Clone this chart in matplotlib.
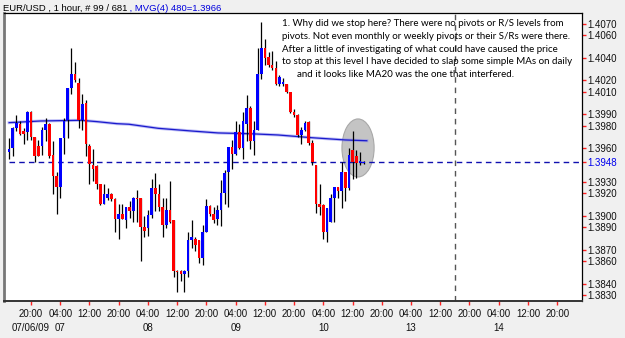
import numpy as np
import matplotlib
matplotlib.use("Agg")
from matplotlib import pyplot as plt
from matplotlib.patches import Ellipse

# hourly EUR/USD candles, 14:00 07/06/09 onwards
opens = [1.3957, 1.3960, 1.3978, 1.3981, 1.3975, 1.3974, 1.3992, 1.3970, 1.3962, 1.3962,
         1.3976, 1.3981, 1.3954, 1.3935, 1.3926, 1.3969, 1.3985, 1.4013, 1.4026, 1.4018,
         1.3985, 1.4000, 1.3962, 1.3945, 1.3944, 1.3928, 1.3911, 1.3916, 1.3919, 1.3915,
         1.3897, 1.3902, 1.3896, 1.3908, 1.3904, 1.3916, 1.3916, 1.3890, 1.3889, 1.3901,
         1.3925, 1.3919, 1.3908, 1.3892, 1.3905, 1.3896, 1.3851, 1.3851, 1.3849, 1.3851,
         1.3879, 1.3880, 1.3879, 1.3863, 1.3886, 1.3909, 1.3902, 1.3897, 1.3905, 1.3920,
         1.3939, 1.3961, 1.3955, 1.3974, 1.3960, 1.3981, 1.3996, 1.3966, 1.3976, 1.4026,
         1.4049, 1.4041, 1.4034, 1.4031, 1.4017, 1.4017, 1.4017, 1.4010, 1.3992, 1.3989,
         1.3972, 1.3976, 1.3983, 1.3965, 1.3945, 1.3911, 1.3910, 1.3886, 1.3895, 1.3916,
         1.3926, 1.3922, 1.3939, 1.3925, 1.3958, 1.3953, 1.3947, 1.3947]
highs = [1.3969, 1.3979, 1.3989, 1.3984, 1.3978, 1.3993, 1.3993, 1.3970, 1.3967, 1.3979,
         1.3987, 1.3982, 1.3966, 1.3939, 1.3969, 1.3987, 1.4013, 1.4049, 1.4036, 1.4022,
         1.4008, 1.4003, 1.3964, 1.3959, 1.3945, 1.3928, 1.3928, 1.3925, 1.3920, 1.3916,
         1.3911, 1.3911, 1.3908, 1.3913, 1.3917, 1.3923, 1.3916, 1.3900, 1.3905, 1.3933,
         1.3938, 1.3928, 1.3916, 1.3916, 1.3931, 1.3896, 1.3852, 1.3852, 1.3852, 1.3886,
         1.3896, 1.3881, 1.3879, 1.3892, 1.3915, 1.3910, 1.3908, 1.3910, 1.3932, 1.3941,
         1.3961, 1.3967, 1.3984, 1.3981, 1.3992, 1.4007, 1.3997, 1.3984, 1.4049, 1.4072,
         1.4057, 1.4045, 1.4046, 1.4037, 1.4025, 1.4022, 1.4017, 1.4010, 1.3995, 1.3990,
         1.3979, 1.3984, 1.3984, 1.3967, 1.3945, 1.3928, 1.3911, 1.3907, 1.3919, 1.3926,
         1.3926, 1.3948, 1.3939, 1.3960, 1.3975, 1.3958, 1.3957, 1.3949]
lows = [1.3950, 1.3953, 1.3975, 1.3972, 1.3964, 1.3967, 1.3967, 1.3948, 1.3953, 1.3954,
        1.3966, 1.3951, 1.3919, 1.3902, 1.3916, 1.3955, 1.3969, 1.4008, 1.4019, 1.3978,
        1.3976, 1.3953, 1.3928, 1.3931, 1.3924, 1.3910, 1.3911, 1.3914, 1.3913, 1.3886,
        1.3880, 1.3897, 1.3889, 1.3898, 1.3895, 1.3895, 1.3860, 1.3881, 1.3882, 1.3898,
        1.3904, 1.3904, 1.3881, 1.3889, 1.3894, 1.3846, 1.3833, 1.3842, 1.3833, 1.3846,
        1.3872, 1.3869, 1.3858, 1.3857, 1.3886, 1.3900, 1.3894, 1.3892, 1.3891, 1.3911,
        1.3908, 1.3942, 1.3954, 1.3959, 1.3950, 1.3966, 1.3959, 1.3954, 1.3976, 1.4021,
        1.4034, 1.4032, 1.4029, 1.4016, 1.4015, 1.4015, 1.4009, 1.3991, 1.3988, 1.3970,
        1.3964, 1.3975, 1.3963, 1.3945, 1.3903, 1.3901, 1.3880, 1.3877, 1.3895, 1.3895,
        1.3916, 1.3907, 1.3913, 1.3923, 1.3933, 1.3934, 1.3945, 1.3946]
closes = [1.3959, 1.3978, 1.3982, 1.3973, 1.3973, 1.3992, 1.3970, 1.3953, 1.3953, 1.3976,
          1.3981, 1.3953, 1.3935, 1.3926, 1.3969, 1.3984, 1.4013, 1.4026, 1.4020, 1.3985,
          1.3999, 1.3964, 1.3946, 1.3942, 1.3928, 1.3911, 1.3919, 1.3919, 1.3915, 1.3897,
          1.3902, 1.3897, 1.3908, 1.3904, 1.3916, 1.3915, 1.3890, 1.3887, 1.3901, 1.3925,
          1.3919, 1.3908, 1.3892, 1.3905, 1.3895, 1.3851, 1.3850, 1.3849, 1.3851, 1.3879,
          1.3881, 1.3874, 1.3863, 1.3886, 1.3909, 1.3902, 1.3896, 1.3905, 1.3920, 1.3938,
          1.3961, 1.3955, 1.3974, 1.3960, 1.3984, 1.3996, 1.3966, 1.3976, 1.4026, 1.4049,
          1.4040, 1.4034, 1.4031, 1.4017, 1.4023, 1.4019, 1.4010, 1.3992, 1.3989, 1.3972,
          1.3976, 1.3982, 1.3965, 1.3948, 1.3911, 1.3908, 1.3886, 1.3907, 1.3916, 1.3926,
          1.3922, 1.3939, 1.3925, 1.3954, 1.3948, 1.3947, 1.3949, 1.3948]

# moving average MVG(4) 480, sampled at bar positions
ma_bars = [0, 8.7, 19.6, 24.1, 29.5, 32.8, 40.8, 50, 57.2, 66, 73.6, 82.8, 92, 97.9]
ma_vals = [1.39826, 1.39841, 1.39847, 1.39835, 1.39817, 1.39812, 1.39776, 1.39752,
           1.39735, 1.39728, 1.39717, 1.39693, 1.39673, 1.39666]

last_price = 1.3948
marker_bar = 122  # dashed vertical line, 16:00 on the 13th

ytick_vals = [1.4070, 1.4060, 1.4040, 1.4020, 1.4010, 1.3990, 1.3980, 1.3960, 1.3948,
              1.3930, 1.3920, 1.3900, 1.3890, 1.3870, 1.3860, 1.3840, 1.3830]
time_labels = ["20:00", "04:00", "12:00"]
date_labels = {0: "07/06/09", 1: "07", 4: "08", 7: "09", 10: "10", 13: "13", 16: "14"}

note = ["1. Why did we stop here? There were no pivots or R/S levels from",
        "pivots. Not even monthly or weekly pivots or their S/Rs were there.",
        "After a little of investigating of what could have caused the price",
        "to stop at this level I have decided to slap some simple MAs on daily",
        "      and it looks like MA20 was the one that interfered."]

W, H = 625, 338
fig = plt.figure(figsize=(W / 100, H / 100), dpi=100, facecolor="#f0f0f0")
ax = fig.add_axes([4 / W, 1 - 301 / H, 578 / W, 288 / H])
ax.set_facecolor("white")
ax.set_xlim(-1.4, 156.8)
ax.set_ylim(1.38247, 1.40797)

o = np.array(opens); c = np.array(closes)
hi = np.array(highs); lo = np.array(lows)
x = np.arange(len(o))
up = c >= o
cols = np.where(up, "#0000ff", "#ff0000")

# highlight circle around the stall
ax.add_patch(Ellipse((95.5, 1.39602), 8.8, 0.00514, fc="#c4c4c4", ec="#a8a8a8",
                     lw=0.8, zorder=1))

ax.vlines(x, lo, hi, color="black", lw=0.9, zorder=3)
body_lo = np.minimum(o, c)
body_h = np.maximum(np.abs(c - o), 0.00009)
ax.bar(x, body_h, bottom=body_lo, width=0.72, color=cols, lw=0, zorder=4)

ax.plot(ma_bars, ma_vals, color="#8080ee", lw=2.2, alpha=0.5, zorder=2)
ax.plot(ma_bars, ma_vals, color="#1a1acc", lw=0.9, zorder=2.5)

ax.hlines(last_price, 0, 156.8, color="#1010b0", lw=1, linestyles=(0, (4, 3)), zorder=2)
ax.axvline(marker_bar, color="#555555", lw=1, linestyle=(0, (4, 3.5)), zorder=2)

# axes styling
for s in ["top", "right"]:
    ax.spines[s].set_color("black")
    ax.spines[s].set_linewidth(0.9)
ax.spines["left"].set_color("#777777")
ax.spines["left"].set_linewidth(2)
ax.spines["bottom"].set_color("#333333")
ax.spines["bottom"].set_linewidth(1.4)

ax.yaxis.tick_right()
ax.set_yticks(ytick_vals)
ax.set_yticklabels(["%.4f" % v for v in ytick_vals], fontsize=7, family="Liberation Sans")
ax.tick_params(axis="y", colors="#ff2020", length=3, width=1, pad=1, labelcolor="#111111")
for lab, v in zip(ax.get_yticklabels(), ytick_vals):
    if v == last_price:
        lab.set_color("#0000ee")

xt = list(range(6, 157, 8))
xl = []
for n, _ in enumerate(xt):
    t = time_labels[n % 3]
    if n in date_labels:
        t += "\n" + date_labels[n]
    xl.append(t)
ax.set_xticks(xt)
ax.set_xticklabels(xl, fontsize=7, family="Liberation Sans", linespacing=1.45)
ax.tick_params(axis="x", colors="#ff2020", length=3, width=1, pad=3, labelcolor="#111111")
for lab in ax.get_xticklabels():
    lab.set_verticalalignment("top")

# title, two colours
t1 = fig.text(3 / W, 1 - 11 / H, "EUR/USD , 1 hour, # 99 / 681", fontsize=6.8,
              family="Liberation Sans", color="black", va="baseline")
fig.canvas.draw()
bb = t1.get_window_extent()
fig.text(bb.x1 / W, 1 - 11 / H, " , MVG(4) 480=1.3966", fontsize=6.8,
         family="Liberation Sans", color="#0000dd", va="baseline")

for i, line in enumerate(note):
    fig.text(282 / W, 1 - (26 + i * 12.8) / H, line, fontsize=7.0, family="Lato",
             color="black", va="baseline")

fig.savefig("out.png", dpi=100, facecolor=fig.get_facecolor())
